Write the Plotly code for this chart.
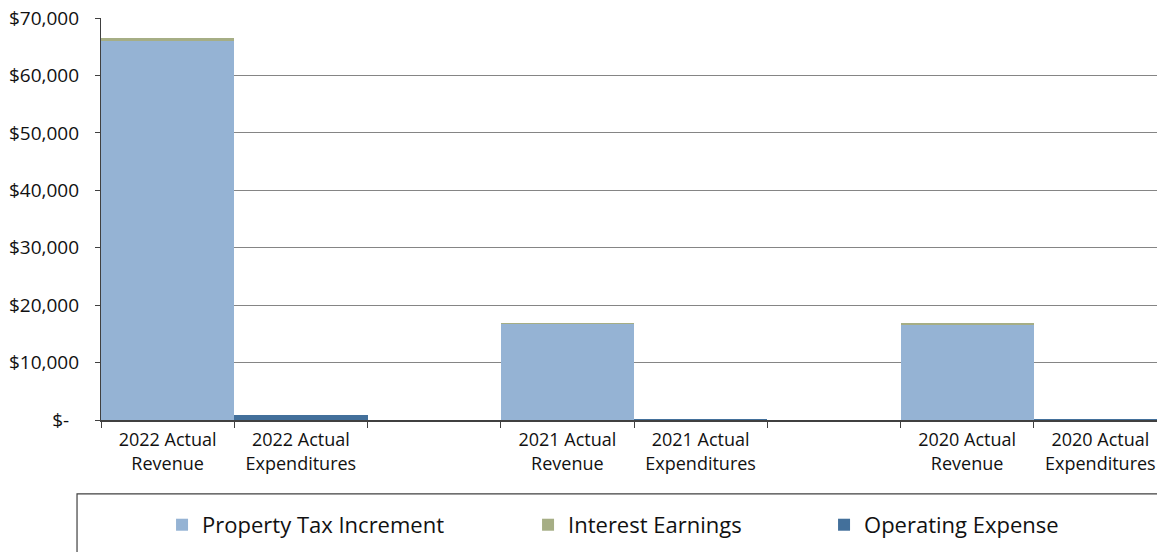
import plotly.graph_objects as go

categories = ["2022 Actual<br>Revenue", "2022 Actual<br>Expenditures", " ",
              "2021 Actual<br>Revenue", "2021 Actual<br>Expenditures", "  ",
              "2020 Actual<br>Revenue", "2020 Actual<br>Expenditures"]
property_tax = [66000, None, None, 16800, None, None, 16650, None]
interest_earnings = [450, None, None, 60, None, None, 80, None]
operating_expense = [None, 900, None, None, 120, None, None, 100]

y_ticks = [0, 10000, 20000, 30000, 40000, 50000, 60000, 70000]
y_tick_labels = ["$-\u00a0\u00a0", "$10,000", "$20,000", "$30,000", "$40,000", "$50,000", "$60,000", "$70,000"]

FONT = "Open Sans"
TXT = "#111111"
fig = go.Figure()
fig.add_trace(go.Bar(x=categories, y=property_tax, name="Property Tax Increment",
                     marker=dict(color="#95B3D4", line=dict(width=0)), legend="legend"))
fig.add_trace(go.Bar(x=categories, y=interest_earnings, name="Interest Earnings",
                     marker=dict(color="#A6AE85", line=dict(width=0)), legend="legend2"))
fig.add_trace(go.Bar(x=categories, y=operating_expense, name="Operating Expense",
                     marker=dict(color="#43709B", line=dict(width=0)), legend="legend3"))

leg_common = dict(orientation="h", yanchor="middle", y=-0.261, xanchor="left",
                  bgcolor="rgba(0,0,0,0)", font=dict(family=FONT, size=22, color=TXT))

fig.update_layout(
    width=1157, height=552,
    margin=dict(l=101, r=0, t=18, b=132),
    barmode="stack", bargap=0,
    showlegend=True,
    plot_bgcolor="white", paper_bgcolor="white",
    font=dict(family=FONT, size=18, color=TXT),
    xaxis=dict(type="category", range=[-0.5, 7.425], tickson="boundaries",
               ticks="outside", ticklen=6, tickcolor="#404040",
               showline=True, linecolor="#404040", linewidth=1.5,
               ticklabelstandoff=3,
               showgrid=False, tickfont=dict(family=FONT, size=18, color=TXT)),
    yaxis=dict(range=[0, 70000], tickvals=y_ticks, ticktext=y_tick_labels,
               showgrid=True, gridcolor="#858585", gridwidth=1.3,
               showline=True, linecolor="#404040", linewidth=1.2,
               ticks="outside", ticklen=5, tickcolor="#404040",
               ticklabelstandoff=12, ticklabeloverflow="allow",
               zeroline=False, tickfont=dict(family=FONT, size=19, color=TXT)),
    legend=dict(x=0.0578, **leg_common),
    legend2=dict(x=0.4044, **leg_common),
    legend3=dict(x=0.6847, **leg_common),
    shapes=[dict(type="rect", xref="paper", yref="paper",
                 x0=-0.0227, x1=1.02, y0=-0.184, y1=-0.40,
                 line=dict(color="#404040", width=1.2), fillcolor="rgba(0,0,0,0)", layer="below")],
)

fig.write_html("out.html", config={"displayModeBar": False},
               post_script="document.body.style.margin='0';document.body.style.overflow='hidden';")
